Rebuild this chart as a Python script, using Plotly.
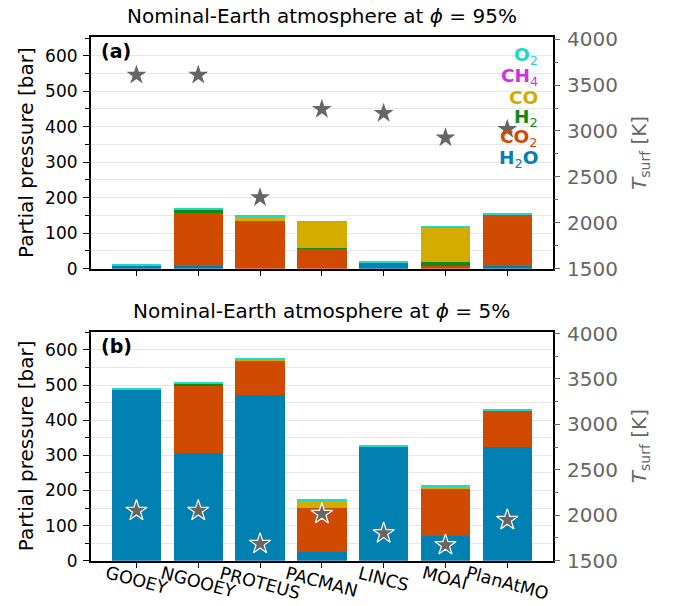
import plotly.graph_objects as go

# Models compared
models = ["GOOEY", "NGOOEY", "PROTEUS", "PACMAN", "LINCS", "MOAI", "PlanAtMO"]

# Species, stacked bottom to top
species = ["H2O", "CO2", "H2", "CO", "CH4", "O2"]
species_labels = ["<b>H</b><sub>2</sub><b>O</b>", "<b>CO</b><sub>2</sub>", "<b>H</b><sub>2</sub>",
                  "<b>CO</b>", "<b>CH</b><sub>4</sub>", "<b>O</b><sub>2</sub>"]
species_colors = ["#0180B2", "#D14A02", "#118A11", "#D4AC00", "#CC33DD", "#20D8C8"]

# Partial pressures [bar], phi = 95%
p95_H2O = [8, 8, 0, 0, 18, 0, 8]
p95_CO2 = [0, 149, 134, 55, 0, 8, 143]
p95_H2 = [0, 9, 0, 3, 0, 10, 0]
p95_CO = [0, 0, 11, 73, 0, 98, 0]
p95_CH4 = [0, 0, 0, 0, 0, 0, 0]
p95_O2 = [3, 2, 3, 2, 3, 4, 3]
# Surface temperature [K], phi = 95%
T95 = [3610, 3610, 2275, 3236, 3192, 2927, 3018]

# Partial pressures [bar], phi = 5%
p5_H2O = [487, 308, 473, 25, 325, 70, 325]
p5_CO2 = [0, 189, 97, 125, 0, 133, 104]
p5_H2 = [0, 9, 1, 0, 0, 0, 0]
p5_CO = [0, 0, 3, 23, 0, 10, 0]
p5_CH4 = [0, 0, 0, 0, 0, 0, 0]
p5_O2 = [3, 3, 3, 2, 3, 2, 4]
# Surface temperature [K], phi = 5%
T5 = [2050, 2050, 1686, 2015, 1803, 1672, 1949]

panels = [
    dict(tag="(a)", title="Nominal-Earth atmosphere at <i>ϕ</i> = 95%",
         parts=[p95_H2O, p95_CO2, p95_H2, p95_CO, p95_CH4, p95_O2], T=T95,
         xa="x", ya="y", ya2="y2", star_size=15, star_line=0),
    dict(tag="(b)", title="Nominal-Earth atmosphere at <i>ϕ</i> = 5%",
         parts=[p5_H2O, p5_CO2, p5_H2, p5_CO, p5_CH4, p5_O2], T=T5,
         xa="x2", ya="y3", ya2="y4", star_size=16, star_line=1.2),
]

W, H = 673, 606
FONT = "DejaVu Sans"
GREY = "#666666"

# pixel boxes of the two panels (left, right, top, bottom)
X0, X1 = 90.7, 553.0
boxes = [(37.3, 268.7), (331.7, 560.7)]


def px_x(v):
    return v / W


def px_y(v):
    return 1 - v / H


fig = go.Figure()

for p in panels:
    for name, col, vals in zip(species, species_colors, p["parts"]):
        fig.add_trace(go.Bar(
            x=models, y=vals, name=name, marker=dict(color=col, line=dict(width=0)),
            width=0.8, xaxis=p["xa"], yaxis=p["ya"], showlegend=False,
        ))
    fig.add_trace(go.Scatter(
        x=models, y=p["T"], mode="markers", xaxis=p["xa"], yaxis=p["ya2"],
        marker=dict(symbol="star", size=p["star_size"], color=GREY,
                    line=dict(color="white", width=p["star_line"])),
        showlegend=False,
    ))

annotations = []
layout = dict(
    template="none",
    width=W, height=H, margin=dict(l=0, r=0, t=0, b=0, pad=0, autoexpand=False),
    paper_bgcolor="white", plot_bgcolor="white", barmode="stack",
    showlegend=False,
    font=dict(family=FONT, color="black"),
)

for i, (p, (top, bot)) in enumerate(zip(panels, boxes)):
    xname = "xaxis" if i == 0 else "xaxis2"
    yname = "yaxis" if i == 0 else "yaxis3"
    y2name = "yaxis2" if i == 0 else "yaxis4"
    ydom = [px_y(bot), px_y(top)]
    layout[xname] = dict(
        domain=[px_x(X0), px_x(X1)], anchor=p["ya"], type="category",
        range=[-0.74, 6.74], showticklabels=False, ticks="outside",
        ticklen=6, tickwidth=1.3, tickcolor="black", automargin=False,
        showline=True, linecolor="black", linewidth=1.5, mirror=True,
        showgrid=False, zeroline=False,
    )
    layout[yname] = dict(
        domain=ydom, anchor=p["xa"], range=[0, 652], tick0=0, dtick=100,
        ticks="outside", ticklen=6, tickwidth=1.3, tickcolor="black",
        tickfont=dict(size=17, color="black"), ticklabelstandoff=2,
        automargin=False,
        showline=True, linecolor="black", linewidth=1.5, mirror=True,
        showgrid=True, gridcolor="#e6e6e6", gridwidth=1.2, zeroline=False,
        minor=dict(dtick=50, ticks="outside", ticklen=3.5, tickwidth=1,
                   tickcolor="black", showgrid=True, gridcolor="#e6e6e6",
                   gridwidth=1.2),
    )
    layout[y2name] = dict(
        overlaying=p["ya"], side="right", anchor=p["xa"], range=[1500, 4020],
        tick0=1500, dtick=500, ticks="outside", ticklen=6, tickwidth=1.3,
        tickcolor=GREY, tickfont=dict(size=20, color=GREY), ticklabelstandoff=3,
        automargin=False,
        showline=False, showgrid=False, zeroline=False,
        minor=dict(dtick=250, ticks="outside", ticklen=3.5, tickwidth=1,
                   tickcolor=GREY),
    )

    mid = (top + bot) / 2
    # panel title
    annotations.append(dict(
        text=p["title"], xref="paper", yref="paper", x=px_x((X0 + X1) / 2),
        y=px_y(top - 21), xanchor="center", yanchor="middle", showarrow=False,
        font=dict(size=20, color="black"),
    ))
    # panel tag
    annotations.append(dict(
        text="<b>%s</b>" % p["tag"], xref="paper", yref="paper", x=px_x(X0 + 8),
        y=px_y(top + 14), xanchor="left", yanchor="middle", showarrow=False,
        font=dict(size=19, color="black"),
    ))
    # left axis title
    annotations.append(dict(
        text="Partial pressure [bar]", xref="paper", yref="paper", x=px_x(26),
        y=px_y(mid), xanchor="center", yanchor="middle", textangle=-90,
        showarrow=False, font=dict(size=20, color="black"),
    ))
    # right axis title
    annotations.append(dict(
        text="<i>T</i><sub>surf</sub> [K]", xref="paper", yref="paper",
        x=px_x(640), y=px_y(mid), xanchor="center", yanchor="middle",
        textangle=-90, showarrow=False, font=dict(size=20, color=GREY),
    ))

# species key, coloured text only, top right of panel (a)
key_order = list(range(len(species)))[::-1]
for k, idx in enumerate(key_order):
    annotations.append(dict(
        text=species_labels[idx], xref="paper", yref="paper",
        x=px_x(540), y=px_y(56 + k * 20.6), xanchor="right", yanchor="middle",
        showarrow=False, font=dict(size=18.5, color=species_colors[idx]),
    ))

# rotated model names under panel (b)
for m in models:
    annotations.append(dict(
        text=m, xref="x2", yref="paper", x=m, y=px_y(560), xanchor="center",
        yanchor="top", textangle=15, showarrow=False,
        font=dict(size=17.5, color="black"),
    ))

layout["annotations"] = annotations
fig.update_layout(**layout)
fig.write_html("out.html")
